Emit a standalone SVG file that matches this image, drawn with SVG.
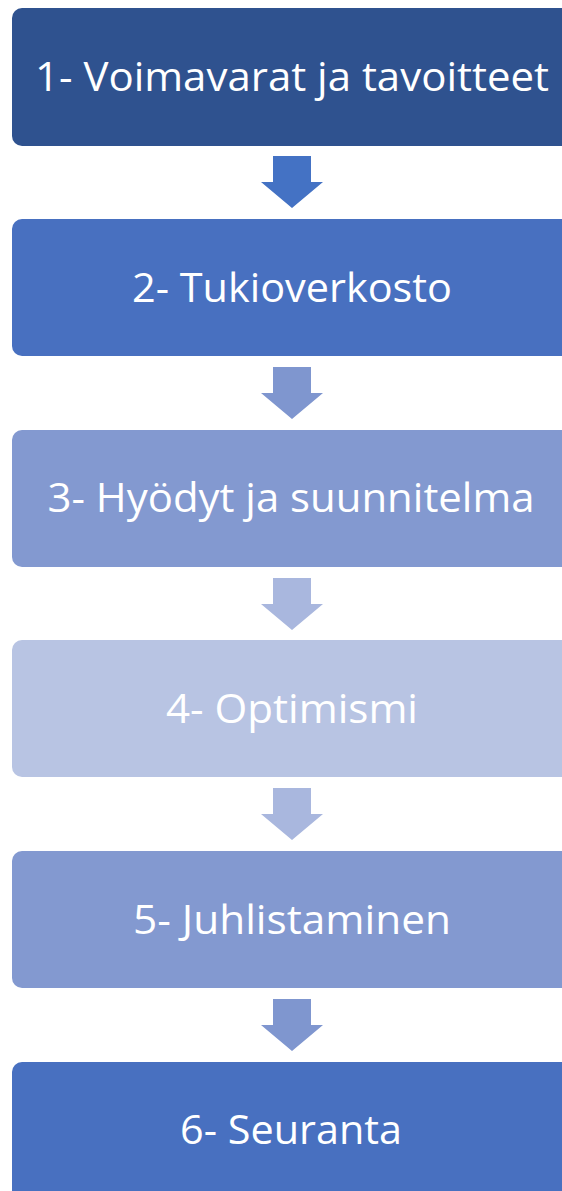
<svg xmlns="http://www.w3.org/2000/svg" width="562" height="1191" viewBox="0 0 562 1191">
<style>
.box{stroke:none}
.lbl{font-family:"Open Sans","Noto Sans",sans-serif;font-size:41px;fill:#ffffff;text-anchor:middle}
</style>
<defs>
<path id="arr" d="M273,0 H311 V26 H323 L292,52 L261,26 H273 Z"/>
</defs>
<rect width="562" height="1191" fill="#ffffff"/>
<g id="connectors">
<use href="#arr" y="156" fill="#4472C4"/>
<use href="#arr" y="367" fill="#7F96CF"/>
<use href="#arr" y="578" fill="#A9B7DE"/>
<use href="#arr" y="788" fill="#A9B7DE"/>
<use href="#arr" y="999" fill="#7F96CF"/>
</g>
<g id="node1">
<rect class="box" x="12" y="8" width="560" height="138" rx="10" fill="#2F528F"/>
<text class="lbl" x="292" y="91" textLength="514" lengthAdjust="spacingAndGlyphs">1- Voimavarat ja tavoitteet</text>
</g>
<g id="node2">
<rect class="box" x="12" y="219" width="560" height="137" rx="10" fill="#4870C0"/>
<text class="lbl" x="292" y="302" textLength="320" lengthAdjust="spacingAndGlyphs">2- Tukioverkosto</text>
</g>
<g id="node3">
<rect class="box" x="12" y="430" width="560" height="137" rx="10" fill="#8399D0"/>
<text class="lbl" x="291" y="512" textLength="487" lengthAdjust="spacingAndGlyphs">3- Hyödyt ja suunnitelma</text>
</g>
<g id="node4">
<rect class="box" x="12" y="640" width="560" height="137" rx="10" fill="#B8C4E3"/>
<text class="lbl" x="292" y="723" textLength="252" lengthAdjust="spacingAndGlyphs">4- Optimismi</text>
</g>
<g id="node5">
<rect class="box" x="12" y="851" width="560" height="137" rx="10" fill="#8399D0"/>
<text class="lbl" x="292" y="934" textLength="318" lengthAdjust="spacingAndGlyphs">5- Juhlistaminen</text>
</g>
<g id="node6">
<rect class="box" x="12" y="1062" width="560" height="140" rx="10" fill="#4870C0"/>
<text class="lbl" x="291" y="1144" textLength="222" lengthAdjust="spacingAndGlyphs">6- Seuranta</text>
</g>
</svg>
